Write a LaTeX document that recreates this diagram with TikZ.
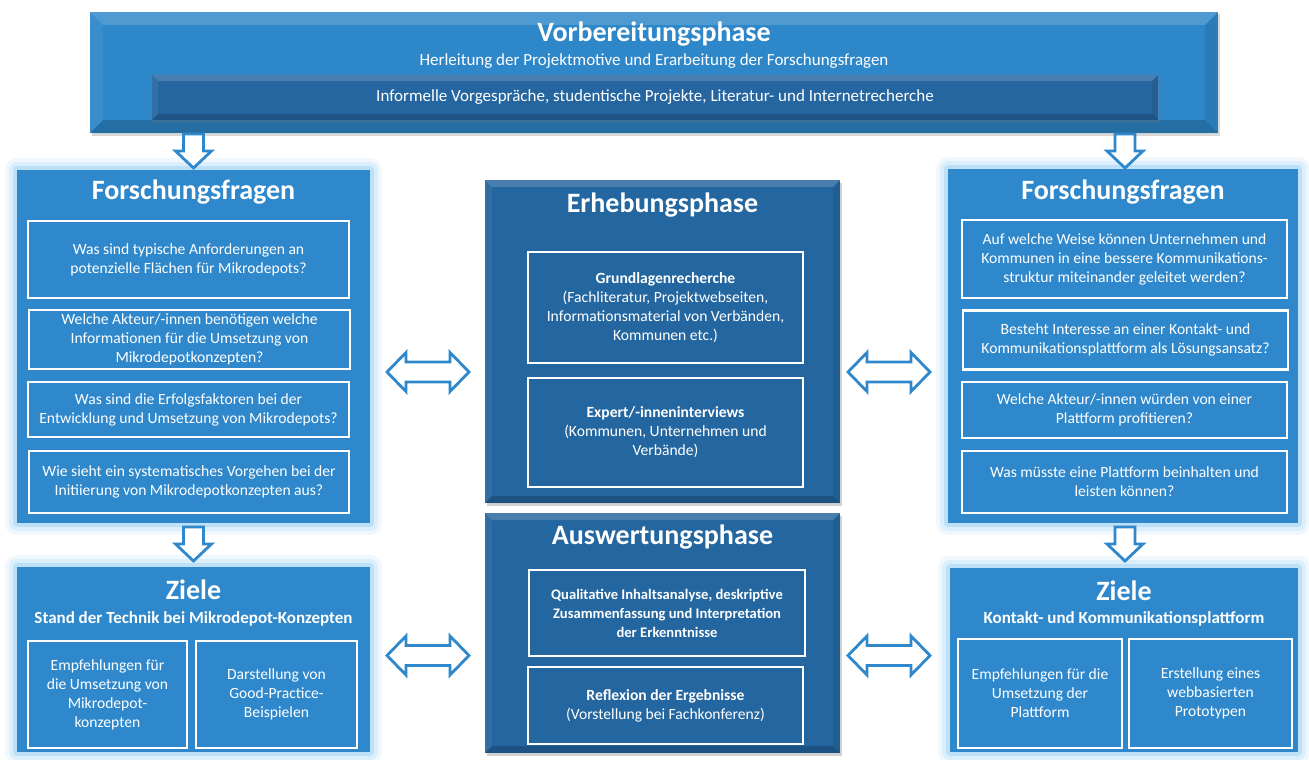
\documentclass[tikz,border=0pt]{standalone}
\usepackage{fontspec}
\setmainfont{Carlito}
\usetikzlibrary{calc,shadows}
\definecolor{lightbox}{HTML}{2E88CB}
\definecolor{darkbox}{HTML}{24669F}
\definecolor{topbox}{HTML}{2E87C9}
\definecolor{topinner}{HTML}{2566A0}
\definecolor{glowc}{HTML}{8FCBF5}
\definecolor{arrc}{HTML}{2F88CB}
\newcommand\dnarrow[1]{%
  \draw[arrline] ($(#1)+(-10,0)$) -- ($(#1)+(10,0)$) -- ($(#1)+(10,17)$) -- ($(#1)+(18,17)$)
     -- ($(#1)+(0,34)$) -- ($(#1)+(-18,17)$) -- ($(#1)+(-10,17)$) -- cycle;}
\newcommand\dblarrow[1]{%
  \draw[arrline] ($(#1)+(-41,0)$) -- ($(#1)+(-22,-19.5)$) -- ($(#1)+(-22,-10)$) -- ($(#1)+(22,-10)$)
     -- ($(#1)+(22,-19.5)$) -- ($(#1)+(41,0)$) -- ($(#1)+(22,19.5)$) -- ($(#1)+(22,10)$)
     -- ($(#1)+(-22,10)$) -- ($(#1)+(-22,19.5)$) -- cycle;}
\begin{document}
\begin{tikzpicture}[x=1pt,y=-1pt,
  every node/.style={inner sep=0pt, outer sep=0pt},
  txt/.style={text=white, align=center, font=\fontsize{15.6}{19}\selectfont},
  btxt/.style={text=white, align=center, font=\fontsize{15.6}{19}\selectfont\bfseries},
  subtxt/.style={text=white, align=center, font=\fontsize{17}{20}\selectfont\bfseries},
  toptxt/.style={text=white, align=center, font=\fontsize{17}{20}\selectfont},
  ttl/.style={text=white, font=\fontsize{28}{32}\selectfont\bfseries},
  glow/.style={preaction={draw=glowc, line width=24pt, opacity=.12, line join=round},
               preaction={draw=glowc, line width=16pt, opacity=.22, line join=round},
               preaction={draw=glowc, line width=8pt, opacity=.4, line join=round}},
  lbox/.style={fill=lightbox, glow},
  bevel/.style={path picture={
    \fill[white, opacity=.16] (path picture bounding box.north west) -- (path picture bounding box.north east)
      -- ([xshift=-#1,yshift=-#1]path picture bounding box.north east) -- ([xshift=#1,yshift=-#1]path picture bounding box.north west) -- cycle;
    \fill[black, opacity=.18] (path picture bounding box.south west) -- (path picture bounding box.south east)
      -- ([xshift=-#1,yshift=#1]path picture bounding box.south east) -- ([xshift=#1,yshift=#1]path picture bounding box.south west) -- cycle;
    \fill[white, opacity=.06] (path picture bounding box.north west) -- (path picture bounding box.south west)
      -- ([xshift=#1,yshift=#1]path picture bounding box.south west) -- ([xshift=#1,yshift=-#1]path picture bounding box.north west) -- cycle;
    \fill[black, opacity=.08] (path picture bounding box.north east) -- (path picture bounding box.south east)
      -- ([xshift=-#1,yshift=#1]path picture bounding box.south east) -- ([xshift=-#1,yshift=-#1]path picture bounding box.north east) -- cycle;
  }},
  dbox/.style={fill=darkbox, bevel=7pt, drop shadow={opacity=.35, shadow xshift=1.5pt, shadow yshift=-2.5pt}},
  wbox/.style={draw=white, line width=2.2pt},
  arrline/.style={draw=arrc, fill=white, line width=2.8pt, line join=miter}
]
\useasboundingbox (0,0) rectangle (1309,760);
\fill[white] (0,0) rectangle (1309,760);

% ---------- top ----------
\node[fill=topbox, bevel=13pt, minimum width=1128pt, minimum height=121pt,
      drop shadow={opacity=.3, shadow xshift=1.5pt, shadow yshift=-2.5pt}] (top) at (654,72.5) {};
\node[ttl] (toptitle) at (654,34) {Vorbereitungsphase};
\node[toptxt] (topsub) at (654,61) {Herleitung der Projektmotive und Erarbeitung der Forschungsfragen};
\node[fill=topinner, bevel=6pt, minimum width=1006pt, minimum height=45pt, toptxt,
      drop shadow={opacity=.3, shadow xshift=1pt, shadow yshift=-2pt}] (topin) at (655,97.5)
  {Informelle Vorgespräche, studentische Projekte, Literatur- und Internetrecherche};

% ---------- left column ----------
\node[lbox, minimum width=353pt, minimum height=353pt] (ffL) at (193.5,346.5) {};
\node[ttl] (ffLt) at (193.5,192) {Forschungsfragen};
\node[wbox, txt, minimum width=321pt, minimum height=77pt] (qL1) at (188.5,259.5)
  {Was sind typische Anforderungen an\\potenzielle Flächen für Mikrodepots?};
\node[wbox, txt, minimum width=321pt, minimum height=59pt] (qL2) at (189.5,339.5)
  {Welche Akteur/-innen benötigen welche\\Informationen für die Umsetzung von\\Mikrodepotkonzepten?};
\node[wbox, txt, minimum width=321pt, minimum height=55pt] (qL3) at (188.5,409.5)
  {Was sind die Erfolgsfaktoren bei der\\Entwicklung und Umsetzung von Mikrodepots?};
\node[wbox, txt, minimum width=320pt, minimum height=62pt] (qL4) at (189,482)
  {Wie sieht ein systematisches Vorgehen bei der\\Initiierung von Mikrodepotkonzepten aus?};

\node[lbox, minimum width=353pt, minimum height=185pt] (zL) at (193.5,659.5) {};
\node[ttl] (zLt) at (193.5,590) {Ziele};
\node[subtxt] (zLs) at (193.5,619) {Stand der Technik bei Mikrodepot-Konzepten};
\node[wbox, txt, minimum width=159pt, minimum height=107pt] (zL1) at (107.5,694.5)
  {Empfehlungen für\\die Umsetzung von\\Mikrodepot-\\konzepten};
\node[wbox, txt, minimum width=161pt, minimum height=107pt] (zL2) at (276.5,694.5)
  {Darstellung von\\Good-Practice-\\Beispielen};

% ---------- center ----------
\node[dbox, minimum width=355pt, minimum height=323pt] (erh) at (662.5,341.5) {};
\node[ttl] (erht) at (662.5,205) {Erhebungsphase};
\node[wbox, txt, minimum width=275pt, minimum height=111pt] (e1) at (665.5,307.5)
  {\textbf{Grundlagenrecherche}\\(Fachliteratur, Projektwebseiten,\\Informationsmaterial von Verbänden,\\Kommunen etc.)};
\node[wbox, txt, minimum width=275pt, minimum height=109pt] (e2) at (665.5,432.5)
  {\textbf{Expert/-inneninterviews}\\(Kommunen, Unternehmen und\\Verbände)};

\node[dbox, minimum width=355pt, minimum height=240pt] (aus) at (662.5,633) {};
\node[ttl] (aust) at (662.5,537) {Auswertungsphase};
\node[wbox, btxt, font=\fontsize{14.6}{19}\selectfont\bfseries, minimum width=276pt, minimum height=86pt] (a1) at (667,613)
  {Qualitative Inhaltsanalyse, deskriptive\\Zusammenfassung und Interpretation\\der Erkenntnisse};
\node[wbox, txt, minimum width=275pt, minimum height=77pt] (a2) at (665.5,705.5)
  {\textbf{Reflexion der Ergebnisse}\\(Vorstellung bei Fachkonferenz)};

% ---------- right column ----------
\node[lbox, minimum width=350pt, minimum height=354pt] (ffR) at (1123,346) {};
\node[ttl] (ffRt) at (1123,192) {Forschungsfragen};
\node[wbox, txt, minimum width=325pt, minimum height=78pt] (qR1) at (1124.5,259)
  {Auf welche Weise können Unternehmen und\\Kommunen in eine bessere Kommunikations-\\struktur miteinander geleitet werden?};
\node[wbox, txt, minimum width=325pt, minimum height=59pt] (qR2) at (1125.5,340)
  {Besteht Interesse an einer Kontakt- und\\Kommunikationsplattform als Lösungsansatz?};
\node[wbox, txt, minimum width=325pt, minimum height=56pt] (qR3) at (1124.5,410)
  {Welche Akteur/-innen würden von einer\\Plattform profitieren?};
\node[wbox, txt, minimum width=325pt, minimum height=62pt] (qR4) at (1124.5,482)
  {Was müsste eine Plattform beinhalten und\\leisten können?};

\node[lbox, minimum width=348pt, minimum height=184pt] (zR) at (1124,660) {};
\node[ttl] (zRt) at (1124,591) {Ziele};
\node[subtxt] (zRs) at (1124,619) {Kontakt- und Kommunikationsplattform};
\node[wbox, txt, minimum width=164pt, minimum height=109pt] (zR1) at (1040,693.5)
  {Empfehlungen für die\\Umsetzung der\\Plattform};
\node[wbox, txt, minimum width=163pt, minimum height=109pt] (zR2) at (1210.5,693.5)
  {Erstellung eines\\webbasierten\\Prototypen};

% ---------- arrows ----------
\coordinate (aTL) at ($(top.south -| ffL.north)+(0,1)$);
\coordinate (aTR) at ($(top.south -| ffR.north)+(2,1)$);
\coordinate (aML) at ($(ffL.south)+(0,4)$);
\coordinate (aMR) at ($(ffR.south)+(2,4)$);
\dnarrow{aTL}
\dnarrow{aTR}
\dnarrow{aML}
\dnarrow{aMR}
\coordinate (dL1) at (428,372);
\coordinate (dR1) at (889,372);
\coordinate (dL2) at (428,655.5);
\coordinate (dR2) at (889,655.5);
\dblarrow{dL1}
\dblarrow{dR1}
\dblarrow{dL2}
\dblarrow{dR2}
\end{tikzpicture}
\end{document}
